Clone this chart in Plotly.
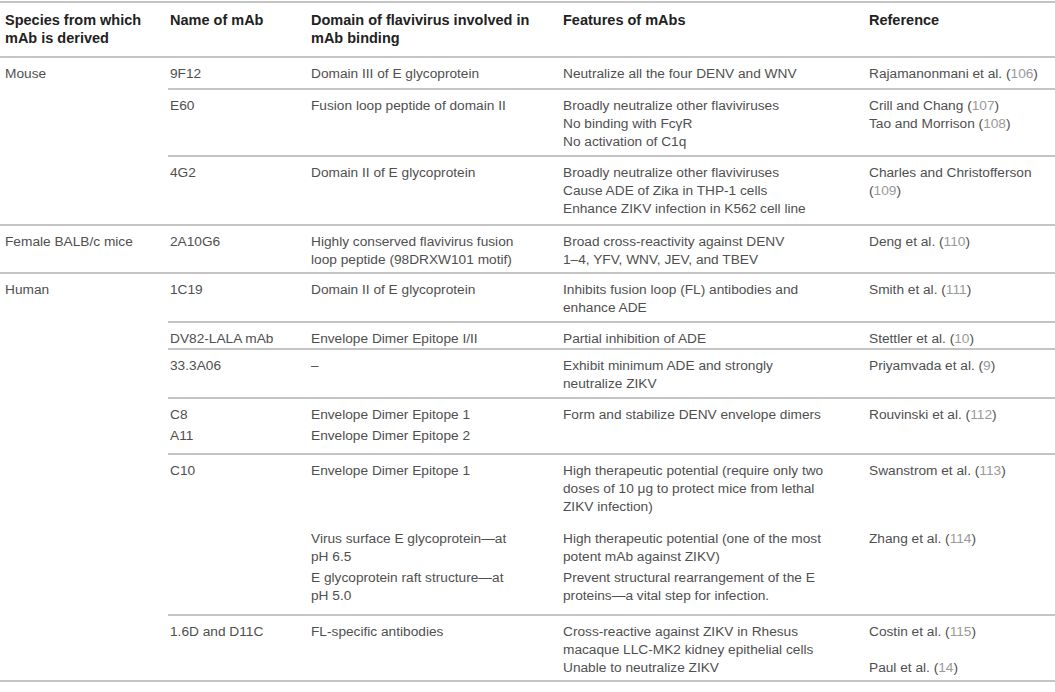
import re

import plotly.graph_objects as go

# table content
header = ["Species from which<br>mAb is derived", "Name of mAb",
          "Domain of flavivirus involved in<br>mAb binding", "Features of mAbs", "Reference"]

species = ["Mouse", "Female BALB/c mice", "Human"]
species_start = [0, 3, 4]  # sub-row where each species group begins

mab_names = ["9F12", "E60", "4G2", "2A10G6", "1C19", "DV82-LALA mAb", "33.3A06",
             "C8", "A11", "C10", "", "", "1.6D and D11C"]

domains = ["Domain III of E glycoprotein",
           "Fusion loop peptide of domain II",
           "Domain II of E glycoprotein",
           "Highly conserved flavivirus fusion<br>loop peptide (98DRXW101 motif)",
           "Domain II of E glycoprotein",
           "Envelope Dimer Epitope I/II",
           "–",
           "Envelope Dimer Epitope 1",
           "Envelope Dimer Epitope 2",
           "Envelope Dimer Epitope 1",
           "Virus surface E glycoprotein—at<br>pH 6.5",
           "E glycoprotein raft structure—at<br>pH 5.0",
           "FL-specific antibodies"]

features = ["Neutralize all the four DENV and WNV",
            "Broadly neutralize other flaviviruses<br>No binding with FcγR<br>No activation of C1q",
            "Broadly neutralize other flaviviruses<br>Cause ADE of Zika in THP-1 cells<br>Enhance ZIKV infection in K562 cell line",
            "Broad cross-reactivity against DENV<br>1–4, YFV, WNV, JEV, and TBEV",
            "Inhibits fusion loop (FL) antibodies and<br>enhance ADE",
            "Partial inhibition of ADE",
            "Exhibit minimum ADE and strongly<br>neutralize ZIKV",
            "Form and stabilize DENV envelope dimers",
            "",
            "High therapeutic potential (require only two<br>doses of 10 μg to protect mice from lethal<br>ZIKV infection)",
            "High therapeutic potential (one of the most<br>potent mAb against ZIKV)",
            "Prevent structural rearrangement of the E<br>proteins—a vital step for infection.",
            "Cross-reactive against ZIKV in Rhesus<br>macaque LLC-MK2 kidney epithelial cells<br>Unable to neutralize ZIKV"]

references = ["Rajamanonmani et al. (106)",
              "Crill and Chang (107)<br>Tao and Morrison (108)",
              "Charles and Christofferson<br>(109)",
              "Deng et al. (110)",
              "Smith et al. (111)",
              "Stettler et al. (10)",
              "Priyamvada et al. (9)",
              "Rouvinski et al. (112)",
              "",
              "Swanstrom et al. (113)",
              "Zhang et al. (114)",
              "",
              "Costin et al. (115)<br><br>Paul et al. (14)"]

# layout of the table (pixels)
W, H = 1055, 692
col_x = [3, 168, 309, 561, 867]
header_top = 2
header_height = 55
row_heights = [32, 67, 69, 48, 49, 27, 49, 21, 35, 68, 39, 54, 66]
rule_above = ["full", "sub", "sub", "full", "full", "sub", "sub", "sub", "none",
              "sub", "none", "none", "sub"]
pad_top = 16
pitch = 18.4

body_color = "#4f4f4f"
head_color = "#222222"
ref_num_color = "#9a9a9a"
rule_color = "#b0b0b0"
font_family = "Liberation Sans, Arial, sans-serif"


def cite(s):
    return re.sub(r"\((\d+)\)", r"(<span style='color:%s'>\1</span>)" % ref_num_color, s)


fig = go.Figure()
fig.add_trace(go.Scatter(x=[], y=[], showlegend=False))


def put_text(x, top, text, bold=False):
    if not text:
        return
    for i, ln in enumerate(text.split("<br>")):
        if not ln:
            continue
        fig.add_annotation(x=x, y=top + pad_top + i * pitch, xref="x", yref="y",
                           text="<b>%s</b>" % ln if bold else ln,
                           showarrow=False, xanchor="left", yanchor="middle",
                           font=dict(family=font_family, size=14.5 if bold else 13.7,
                                     color=head_color if bold else body_color))


def rule(y, x0):
    fig.add_shape(type="line", x0=x0, x1=W, y0=y, y1=y, xref="x", yref="y",
                  line=dict(color=rule_color, width=1.5))


# header
rule(header_top, 0)
for c, txt in enumerate(header):
    put_text(col_x[c], header_top + 2, txt, bold=True)

# body
tops = []
y = header_top + header_height
for h in row_heights:
    tops.append(y)
    y += h
bottom = y

for r, top in enumerate(tops):
    if rule_above[r] == "full":
        rule(top, 0)
    elif rule_above[r] == "sub":
        rule(top, col_x[1])
    put_text(col_x[1], top, mab_names[r])
    put_text(col_x[2], top, domains[r])
    put_text(col_x[3], top, features[r])
    put_text(col_x[4], top, cite(references[r]))

for name, start in zip(species, species_start):
    put_text(col_x[0], tops[start], name)

rule(bottom, 0)

fig.update_layout(width=W, height=H, margin=dict(l=0, r=0, t=0, b=0),
                  paper_bgcolor="white", plot_bgcolor="white", showlegend=False,
                  xaxis=dict(range=[0, W], visible=False, fixedrange=True),
                  yaxis=dict(range=[H, 0], visible=False, fixedrange=True))

fig.write_html("out.html", config={"displayModeBar": False},
               post_script="document.body.style.margin='0px';")
